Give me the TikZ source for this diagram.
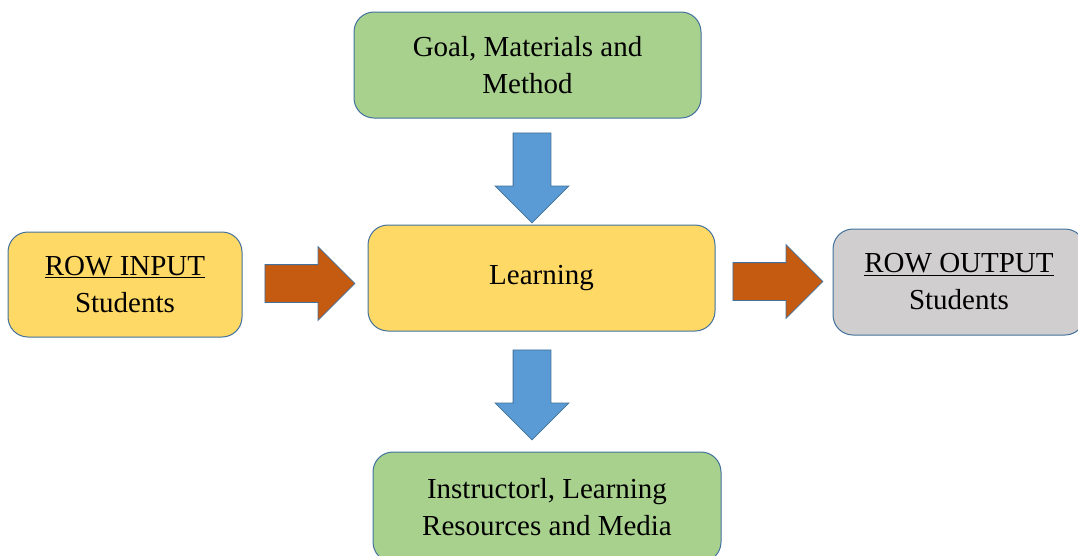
\documentclass[tikz,border=0pt]{standalone}
\usepackage{fontspec}
\setmainfont{Liberation Serif}
\usetikzlibrary{calc,shapes.arrows}
\definecolor{boxgreen}{HTML}{A9D18E}
\definecolor{boxyellow}{HTML}{FFD966}
\definecolor{boxgrey}{HTML}{D0CECE}
\definecolor{boxline}{HTML}{41719C}
\definecolor{arrowblue}{HTML}{5B9BD5}
\definecolor{arrowrust}{HTML}{C55A11}

\begin{document}
\begin{tikzpicture}[x=1pt, y=-1pt,
        box/.style={draw=boxline, line width=1pt, rounded corners=20pt, align=center,
            font=\fontsize{29}{37}\selectfont, inner sep=0pt},
        blockarrow/.style={single arrow, draw=boxline, line width=0.8pt, minimum height=90pt,
            single arrow head extend=18pt, inner xsep=0pt, inner ysep=18.5pt, anchor=tail}]
        \useasboundingbox (0,0) rectangle (1078,555);
        \node [box, fill=boxgreen, minimum width=347pt, minimum height=106pt] (goal) at (527.5,65) {Goal, Materials and\\Method};
        \node [box, fill=boxyellow, minimum width=347pt, minimum height=106pt] (learn) at (541.5,278) {Learning};
        \node [box, fill=boxyellow, minimum width=234pt, minimum height=105pt] (input) at (125,284.5) {\underline{ROW INPUT}\\Students};
        \node [box, fill=boxgrey, minimum width=252pt, minimum height=106pt] (output) at (959,282) {\underline{ROW OUTPUT}\\Students};
        \node [box, fill=boxgreen, minimum width=348pt, minimum height=110pt] (inst) at (547,507) {Instructorl, Learning\\Resources and Media};
        \node [blockarrow, fill=arrowblue, rotate=-90] (a1) at ($(goal.south)+(4.5,14)$) {};
        \node [blockarrow, fill=arrowblue, rotate=-90] (a2) at ($(learn.south)+(-9.5,18)$) {};
        \node [blockarrow, fill=arrowrust] (a3) at ($(input.east)+(22,-1)$) {};
        \node [blockarrow, fill=arrowrust] (a4) at ($(learn.east)+(17,3.5)$) {};
    \end{tikzpicture}
\end{document}
